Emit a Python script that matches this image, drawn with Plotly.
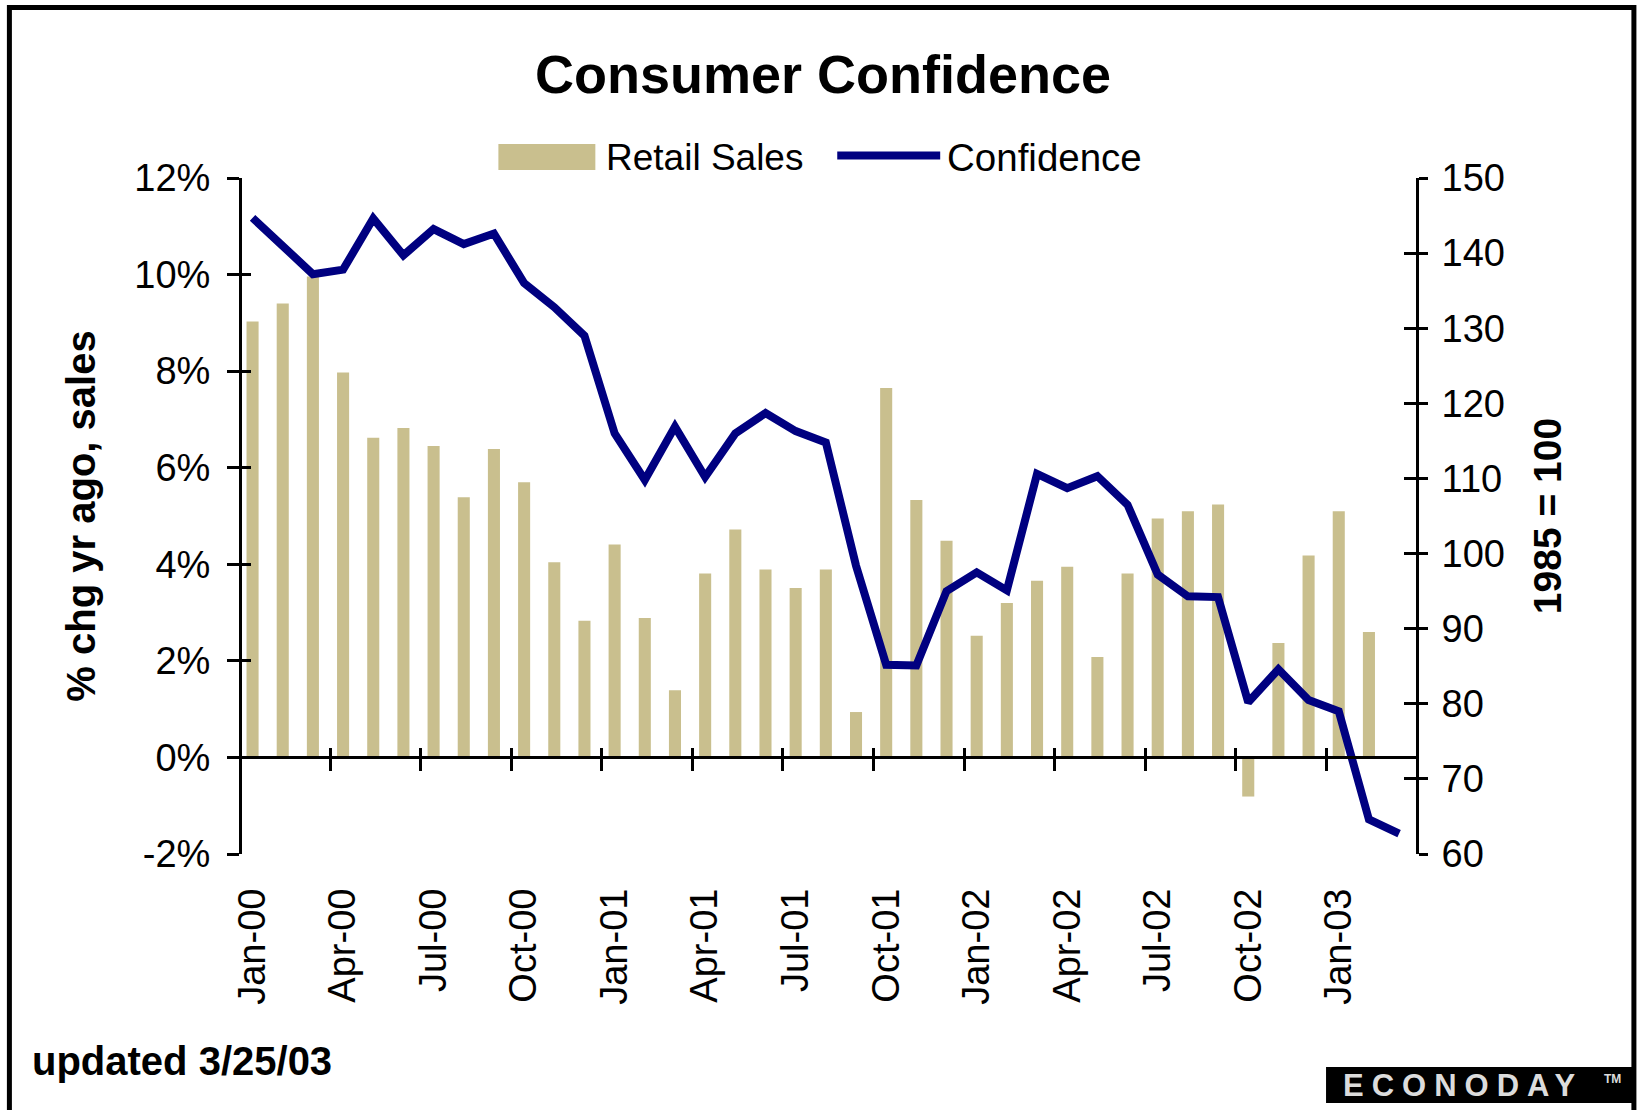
import plotly.graph_objects as go

# ---------------- data ----------------
months = [
    "Jan-00", "Feb-00", "Mar-00", "Apr-00", "May-00", "Jun-00",
    "Jul-00", "Aug-00", "Sep-00", "Oct-00", "Nov-00", "Dec-00",
    "Jan-01", "Feb-01", "Mar-01", "Apr-01", "May-01", "Jun-01",
    "Jul-01", "Aug-01", "Sep-01", "Oct-01", "Nov-01", "Dec-01",
    "Jan-02", "Feb-02", "Mar-02", "Apr-02", "May-02", "Jun-02",
    "Jul-02", "Aug-02", "Sep-02", "Oct-02", "Nov-02", "Dec-02",
    "Jan-03", "Feb-03", "Mar-03",
]
# retail sales, % change year ago (no March 2003 figure yet)
retail_sales = [
    9.03, 9.40, 9.96, 7.97, 6.62, 6.82, 6.45, 5.39, 6.39, 5.70, 4.04, 2.83,
    4.41, 2.89, 1.39, 3.81, 4.72, 3.89, 3.51, 3.89, 0.94, 7.65, 5.33, 4.49,
    2.52, 3.20, 3.66, 3.95, 2.08, 3.81, 4.95, 5.10, 5.24, -0.81, 2.37, 4.18,
    5.10, 2.60, None,
]
# consumer confidence index, 1985 = 100
confidence = [
    144.7, 141.0, 137.2, 137.8, 144.6, 139.7, 143.2, 141.2, 142.6, 136.0, 132.8, 129.0,
    116.0, 109.8, 116.9, 110.2, 116.0, 118.7, 116.3, 114.8, 98.4, 85.2, 85.1, 95.0,
    97.5, 95.1, 110.6, 108.7, 110.3, 106.5, 97.2, 94.3, 94.2, 80.2, 84.6, 80.5,
    79.0, 64.6, 62.7,
]
left_ticks = [-2, 0, 2, 4, 6, 8, 10, 12]
left_tick_text = ["-2%", "0%", "2%", "4%", "6%", "8%", "10%", "12%"]
right_ticks = [60, 70, 80, 90, 100, 110, 120, 130, 140, 150]
right_tick_text = ["60", "70", "80", "90", "100", "110", "120", "130", "140", "150"]
label_step = 3

# ---------------- styling / layout ----------------
TAN = "#C9BF8E"
NAVY = "#000080"
FONT = "Arial, 'Liberation Sans', sans-serif"

W, H = 1638, 1110
ML, MR, MT, MB = 241.5, 222, 178, 256
PW, PH = W - ML - MR, H - MT - MB

def fx(px):
    return (px - ML) / PW

def fy(py):
    return (H - MB - py) / PH

x_idx = list(range(len(months)))
X_RANGE = [-0.35, 38.56]
Y_RANGE = [-2, 12]
Y2_RANGE = [60, 150]
zero_pos = (0 - Y_RANGE[0]) / (Y_RANGE[1] - Y_RANGE[0])
label_vals = x_idx[::label_step]
label_text = months[::label_step]
boundary_ticks = [v - 0.42 for v in label_vals[1:]]

fig = go.Figure()
fig.add_trace(go.Bar(
    x=x_idx, y=retail_sales, name="Retail Sales", width=0.4,
    marker=dict(color=TAN, line=dict(width=0)), xaxis="x", yaxis="y",
))
fig.add_trace(go.Scatter(
    x=x_idx, y=confidence, name="Confidence", mode="lines",
    line=dict(color=NAVY, width=8), xaxis="x", yaxis="y2",
))
# carrier traces for the helper axes (cross-style ticks, axis line at 0%)
for xa, ya in [("x2", "y"), ("x3", "y"), ("x", "y3"), ("x", "y4")]:
    fig.add_trace(go.Scatter(x=[None], y=[None], xaxis=xa, yaxis=ya,
                             showlegend=False, hoverinfo="skip"))

axis_common = dict(showgrid=False, zeroline=False)

fig.update_layout(
    width=W, height=H,
    margin=dict(l=ML, r=MR, t=MT, b=MB),
    paper_bgcolor="white", plot_bgcolor="white",
    font=dict(family=FONT, size=38, color="black"),
    showlegend=False,
    title=dict(text="<b>Consumer Confidence</b>", x=823 / W, xanchor="center",
               y=1 - 74 / H, yanchor="middle", xref="container", yref="container",
               font=dict(size=54, color="black")),
    xaxis=dict(domain=[0, 1], range=X_RANGE, tickmode="array", tickvals=label_vals,
               ticktext=label_text, tickangle=-90, ticks="", showline=False,
               ticklabelstandoff=26, tickfont=dict(size=38), **axis_common),
    xaxis2=dict(overlaying="x", anchor="free", position=zero_pos, side="bottom",
                range=X_RANGE, tickmode="array", tickvals=boundary_ticks,
                ticks="outside", ticklen=12, tickwidth=3, tickcolor="black",
                showline=True, linewidth=3, linecolor="black",
                showticklabels=False, **axis_common),
    xaxis3=dict(overlaying="x", anchor="free", position=zero_pos, side="bottom",
                range=X_RANGE, tickmode="array", tickvals=boundary_ticks,
                ticks="inside", ticklen=9, tickwidth=3, tickcolor="black",
                showline=False, showticklabels=False, **axis_common),
    yaxis=dict(domain=[0, 1], range=Y_RANGE, tickmode="array", tickvals=left_ticks,
               ticktext=left_tick_text, ticks="outside", ticklen=12, tickwidth=3,
               tickcolor="black", showline=True, linewidth=3, linecolor="black",
               ticklabelstandoff=9, tickfont=dict(size=38),
               title=dict(text="<b>% chg yr ago, sales</b>", font=dict(size=40), standoff=27),
               **axis_common),
    yaxis3=dict(overlaying="y", side="left", anchor="x", range=Y_RANGE,
                tickmode="array", tickvals=left_ticks, ticks="inside", ticklen=9,
                tickwidth=3, tickcolor="black", showline=False,
                showticklabels=False, **axis_common),
    yaxis2=dict(overlaying="y", side="right", anchor="x", range=Y2_RANGE,
                tickmode="array", tickvals=right_ticks, ticktext=right_tick_text,
                ticks="outside", ticklen=9, tickwidth=3, tickcolor="black",
                showline=True, linewidth=3, linecolor="black",
                ticklabelstandoff=6, tickfont=dict(size=38),
                title=dict(text="<b>1985 = 100</b>", font=dict(size=39), standoff=30),
                **axis_common),
    yaxis4=dict(overlaying="y", side="right", anchor="x", range=Y2_RANGE,
                tickmode="array", tickvals=right_ticks, ticks="inside", ticklen=12,
                tickwidth=3, tickcolor="black", showline=False,
                showticklabels=False, **axis_common),
)

shapes = [
    # legend swatches
    dict(type="rect", xref="paper", yref="paper", x0=fx(498), x1=fx(595),
         y0=fy(170), y1=fy(144), fillcolor=TAN, line=dict(width=0)),
    dict(type="line", xref="paper", yref="paper", x0=fx(837), x1=fx(940),
         y0=fy(155.5), y1=fy(155.5), line=dict(color=NAVY, width=8)),
    # outer frame
    dict(type="rect", xref="paper", yref="paper", x0=fx(8.8), x1=fx(1634),
         y0=fy(1130), y1=fy(7.5), line=dict(color="black", width=5),
         fillcolor="rgba(0,0,0,0)"),
    # logo box
    dict(type="rect", xref="paper", yref="paper", x0=fx(1326), x1=fx(1633),
         y0=fy(1103), y1=fy(1067), fillcolor="black", line=dict(width=0)),
]
annotations = [
    dict(text="Retail Sales", x=fx(604), y=fy(157), xref="paper", yref="paper",
         xanchor="left", yanchor="middle", showarrow=False, font=dict(size=37)),
    dict(text="Confidence", x=fx(945), y=fy(157), xref="paper", yref="paper",
         xanchor="left", yanchor="middle", showarrow=False, font=dict(size=38.5)),
    dict(text="<b>updated 3/25/03</b>", x=fx(29), y=fy(1061), xref="paper", yref="paper",
         xanchor="left", yanchor="middle", showarrow=False, font=dict(size=40)),
    dict(text='<b><span style="letter-spacing:8px">ECONODAY</span></b>',
         x=fx(1463), y=fy(1085), xref="paper", yref="paper",
         xanchor="center", yanchor="middle", showarrow=False,
         font=dict(size=31, color="#dcdcdc")),
    dict(text="<b>TM</b>", x=fx(1613), y=fy(1079), xref="paper", yref="paper",
         xanchor="center", yanchor="middle", showarrow=False,
         font=dict(size=12, color="#dcdcdc")),
]
fig.update_layout(shapes=shapes, annotations=annotations)

fig.write_html(
    "out.html",
    config={"displayModeBar": False},
    post_script="document.body.style.margin='0px';document.body.style.overflow='hidden';",
)
